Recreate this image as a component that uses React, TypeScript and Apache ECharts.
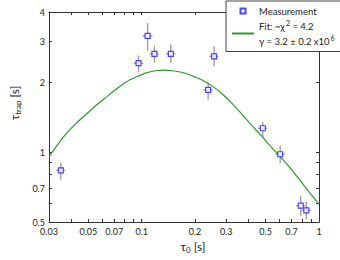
import React, { useEffect, useRef } from "react";
import * as echarts from "echarts";

// Measurement points (tau0 [s], tau_trap [s]) with error bars
const measX = [0.035, 0.096, 0.108, 0.118, 0.146, 0.237, 0.256, 0.482, 0.604, 0.789, 0.848];
const measY = [0.834, 2.41, 3.16, 2.64, 2.64, 1.85, 2.58, 1.265, 0.978, 0.588, 0.561];
const errLo = [0.76, 2.2, 2.73, 2.42, 2.42, 1.68, 2.33, 1.15, 0.894, 0.532, 0.514];
const errHi = [0.9, 2.6, 3.58, 2.87, 2.9, 1.99, 2.85, 1.35, 1.064, 0.649, 0.61];
const xErrLo = [0.033, 0.09, 0.101, 0.111, 0.137, 0.223, 0.241, 0.453, 0.568, 0.742, 0.797];
const xErrHi = [0.037, 0.102, 0.115, 0.125, 0.155, 0.251, 0.271, 0.511, 0.64, 0.836, 0.899];

// Fit curve
const fitX = [0.03, 0.034, 0.0383, 0.043, 0.0494, 0.056, 0.0637, 0.072, 0.0822, 0.093, 0.106, 0.12, 0.134, 0.153, 0.176, 0.2, 0.219, 0.25, 0.282, 0.32, 0.364, 0.41, 0.469, 0.53, 0.604, 0.69, 0.779, 0.88, 1.0];
const fitY = [0.955, 1.09, 1.22, 1.335, 1.467, 1.6, 1.73, 1.865, 2.005, 2.1, 2.19, 2.235, 2.25, 2.23, 2.18, 2.1, 2.04, 1.92, 1.79, 1.63, 1.467, 1.32, 1.184, 1.063, 0.955, 0.851, 0.758, 0.672, 0.596];

// Axis ticks / labels
const xTicks = [0.03, 0.04, 0.05, 0.06, 0.07, 0.08, 0.09, 0.1, 0.2, 0.3, 0.4, 0.5, 0.6, 0.7, 0.8, 0.9, 1];
const xLabels = [0.03, 0.05, 0.07, 0.1, 0.2, 0.3, 0.5, 0.7, 1];
const yTicks = [0.5, 0.6, 0.7, 0.8, 0.9, 1, 2, 3, 4];
const yLabels = [0.5, 0.7, 1, 2, 3, 4];

const FONT = "Lato";
const AXIS_COLOR = "#333";
const fmt = (v: number) => String(+Number(v).toPrecision(2));

export default function App() {
  const ref = useRef<HTMLDivElement>(null);
  useEffect(() => {
    if (!ref.current) return;
    const chart = echarts.init(ref.current, null, { renderer: "svg" });
    const errData = measX.map((x, i) => [x, measY[i], errLo[i], errHi[i], xErrLo[i], xErrHi[i]]);
    const axisCommon = {
      type: "log" as const,
      logBase: 10,
      axisLine: { show: true, lineStyle: { color: AXIS_COLOR, width: 1 } },
      splitLine: { show: false },
    };
    chart.setOption({
      animation: false,
      backgroundColor: "#fff",
      textStyle: { fontFamily: FONT },
      grid: { left: 44, top: 12, right: 21, bottom: 38 },
      xAxis: [
        {
          ...axisCommon,
          min: 0.03,
          max: 1,
          position: "bottom",
          axisTick: { show: true, inside: true, length: 3, customValues: xTicks, lineStyle: { color: AXIS_COLOR } },
          axisLabel: { show: true, customValues: xLabels, formatter: fmt, fontSize: 9, lineHeight: 9, color: "#222", margin: 4.5, fontFamily: FONT },
          name: "{a|τ}{s|0}{a| [s]}",
          nameLocation: "middle",
          nameGap: 12,
          nameTextStyle: {
            padding: [0, 0, 0, 18],
            rich: {
              a: { fontSize: 12, fontFamily: FONT, color: "#222" },
              s: { fontSize: 8, fontFamily: FONT, color: "#222", padding: [7, 0, 0, 0] },
            },
          },
        },
        {
          ...axisCommon,
          min: 0.03,
          max: 1,
          position: "top",
          axisTick: { show: true, inside: true, length: 3, customValues: xTicks, lineStyle: { color: AXIS_COLOR } },
          axisLabel: { show: false },
        },
      ],
      yAxis: [
        {
          ...axisCommon,
          min: 0.5,
          max: 4,
          position: "left",
          axisTick: { show: true, inside: true, length: 3, customValues: yTicks, lineStyle: { color: AXIS_COLOR } },
          axisLabel: { show: true, customValues: yLabels, formatter: fmt, fontSize: 9, lineHeight: 9, color: "#222", margin: 4, fontFamily: FONT },
          name: "{a|τ}{s|trap}{a| [s]}",
          nameLocation: "middle",
          nameGap: 22,
          nameRotate: 90,
          nameTextStyle: {
            padding: [0, 0, 0, 28],
            rich: {
              a: { fontSize: 12, fontFamily: FONT, color: "#222" },
              s: { fontSize: 8, fontFamily: FONT, color: "#222", padding: [7, 0, 0, 0] },
            },
          },
        },
        {
          ...axisCommon,
          min: 0.5,
          max: 4,
          position: "right",
          axisTick: { show: true, inside: true, length: 3, customValues: yTicks, lineStyle: { color: AXIS_COLOR } },
          axisLabel: { show: false },
        },
      ],
      legend: {
        show: true,
        orient: "vertical",
        left: 226,
        top: 1,
        padding: [2.5, 7, 3, 5],
        itemWidth: 22,
        itemHeight: 5,
        itemGap: 0,
        backgroundColor: "#fff",
        borderColor: "#444",
        borderWidth: 1,
        borderRadius: 0,
        data: [
          { name: "Measurement", icon: "path://M0,0M22,5M8.5,0h5v5h-5Z" },
          { name: "Fit", itemStyle: { color: "rgba(0,0,0,0)", borderWidth: 0, opacity: 0 } },
        ],
        formatter: (name: string) =>
          name === "Fit"
            ? "{n|Fit: ~χ}{sup|2}{n| = 4.2}\n{n|γ = 3.2 ± 0.2 x10}{sup|6}"
            : "{n|Measurement}",
        textStyle: {
          fontFamily: FONT,
          fontSize: 9.5,
          lineHeight: 15,
          rich: {
            n: { fontSize: 9.5, lineHeight: 15, color: "#222", fontFamily: FONT },
            sup: { fontSize: 7, lineHeight: 15, color: "#222", fontFamily: FONT, padding: [0, 0, 7, 1] },
          },
        },
      },
      series: [
        {
          name: "errors",
          type: "custom",
          xAxisIndex: 0,
          yAxisIndex: 0,
          data: errData,
          encode: { x: 0, y: 1 },
          z: 1,
          silent: true,
          renderItem: (params: any, api: any) => {
            const x = api.value(0);
            const y = api.value(1);
            const pLo = api.coord([x, api.value(2)]);
            const pHi = api.coord([x, api.value(3)]);
            const pL = api.coord([api.value(4), y]);
            const pR = api.coord([api.value(5), y]);
            const st = { stroke: "#999", lineWidth: 1.3 };
            return {
              type: "group",
              children: [
                { type: "line", shape: { x1: pLo[0], y1: pLo[1], x2: pHi[0], y2: pHi[1] }, style: st },
                { type: "line", shape: { x1: pL[0], y1: pL[1], x2: pR[0], y2: pR[1] }, style: st },
              ],
            };
          },
        },
        {
          name: "Fit",
          type: "line",
          xAxisIndex: 0,
          yAxisIndex: 0,
          data: fitX.map((x, i) => [x, fitY[i]]),
          smooth: 0.2,
          showSymbol: false,
          symbol: "none",
          z: 2,
          lineStyle: { color: "#2a9a2a", width: 1.2 },
          itemStyle: { color: "#2a9a2a" },
        },
        {
          name: "Measurement",
          type: "scatter",
          xAxisIndex: 0,
          yAxisIndex: 0,
          data: measX.map((x, i) => [x, measY[i]]),
          symbol: "rect",
          symbolSize: 5,
          z: 3,
          itemStyle: { color: "#fff", borderColor: "#1a1aff", borderWidth: 1.2 },
        },
      ],
    });
    return () => chart.dispose();
  }, []);
  return <div ref={ref} style={{ position: "absolute", left: 0, top: 0, width: 340, height: 260 }} />;
}
